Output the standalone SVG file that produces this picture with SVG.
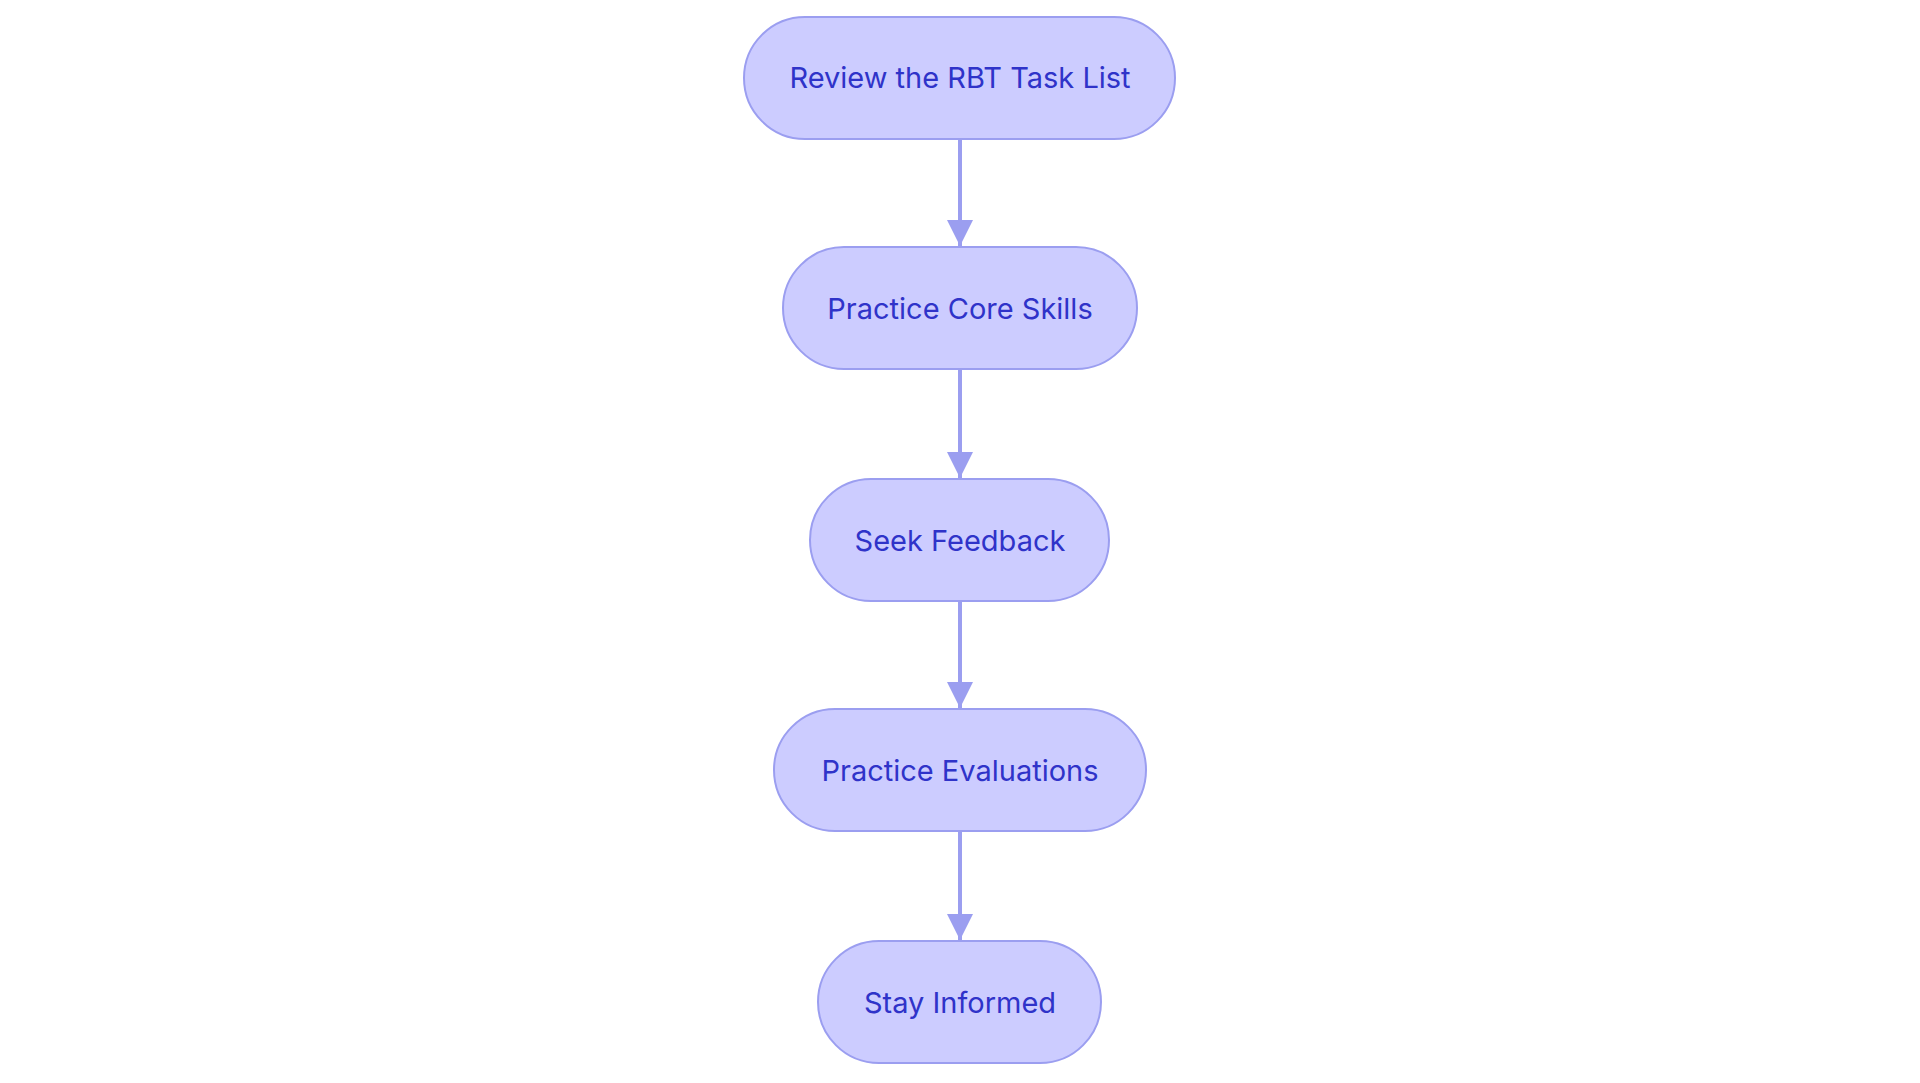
<svg xmlns="http://www.w3.org/2000/svg" width="1920" height="1083" viewBox="0 0 1920 1083">
<style>
.n rect{fill:#ccccff;stroke:#9b9ef0;stroke-width:2}
.n text{font-family:Inter,"Noto Sans",sans-serif;font-size:29px;fill:#2f33c9;text-anchor:middle;dominant-baseline:central}
.e line{stroke:#9b9ef0;stroke-width:4}
</style>
<defs><marker id="a" viewBox="0 0 10 10" refX="10" refY="5" markerWidth="6.5" markerHeight="6.5" markerUnits="strokeWidth" orient="auto"><path d="M0,0L10,5L0,10z" fill="#9b9ef0"/></marker></defs>
<rect width="1920" height="1083" fill="#fff"/>
<g class="e">
<line x1="960" y1="140" x2="960" y2="246" marker-end="url(#a)"/>
<line x1="960" y1="369" x2="960" y2="478" marker-end="url(#a)"/>
<line x1="960" y1="601" x2="960" y2="708" marker-end="url(#a)"/>
<line x1="960" y1="831" x2="960" y2="940" marker-end="url(#a)"/>
</g>
<g id="n1" class="n"><rect x="744" y="17" width="431" height="122" rx="61"/><text x="960" y="77">Review the RBT Task List</text></g>
<g id="n2" class="n"><rect x="783" y="247" width="354" height="122" rx="61"/><text x="960" y="308">Practice Core Skills</text></g>
<g id="n3" class="n"><rect x="810" y="479" width="299" height="122" rx="61"/><text x="960" y="540">Seek Feedback</text></g>
<g id="n4" class="n"><rect x="774" y="709" width="372" height="122" rx="61"/><text x="960" y="770">Practice Evaluations</text></g>
<g id="n5" class="n"><rect x="818" y="941" width="283" height="122" rx="61"/><text x="960" y="1002">Stay Informed</text></g>
</svg>
